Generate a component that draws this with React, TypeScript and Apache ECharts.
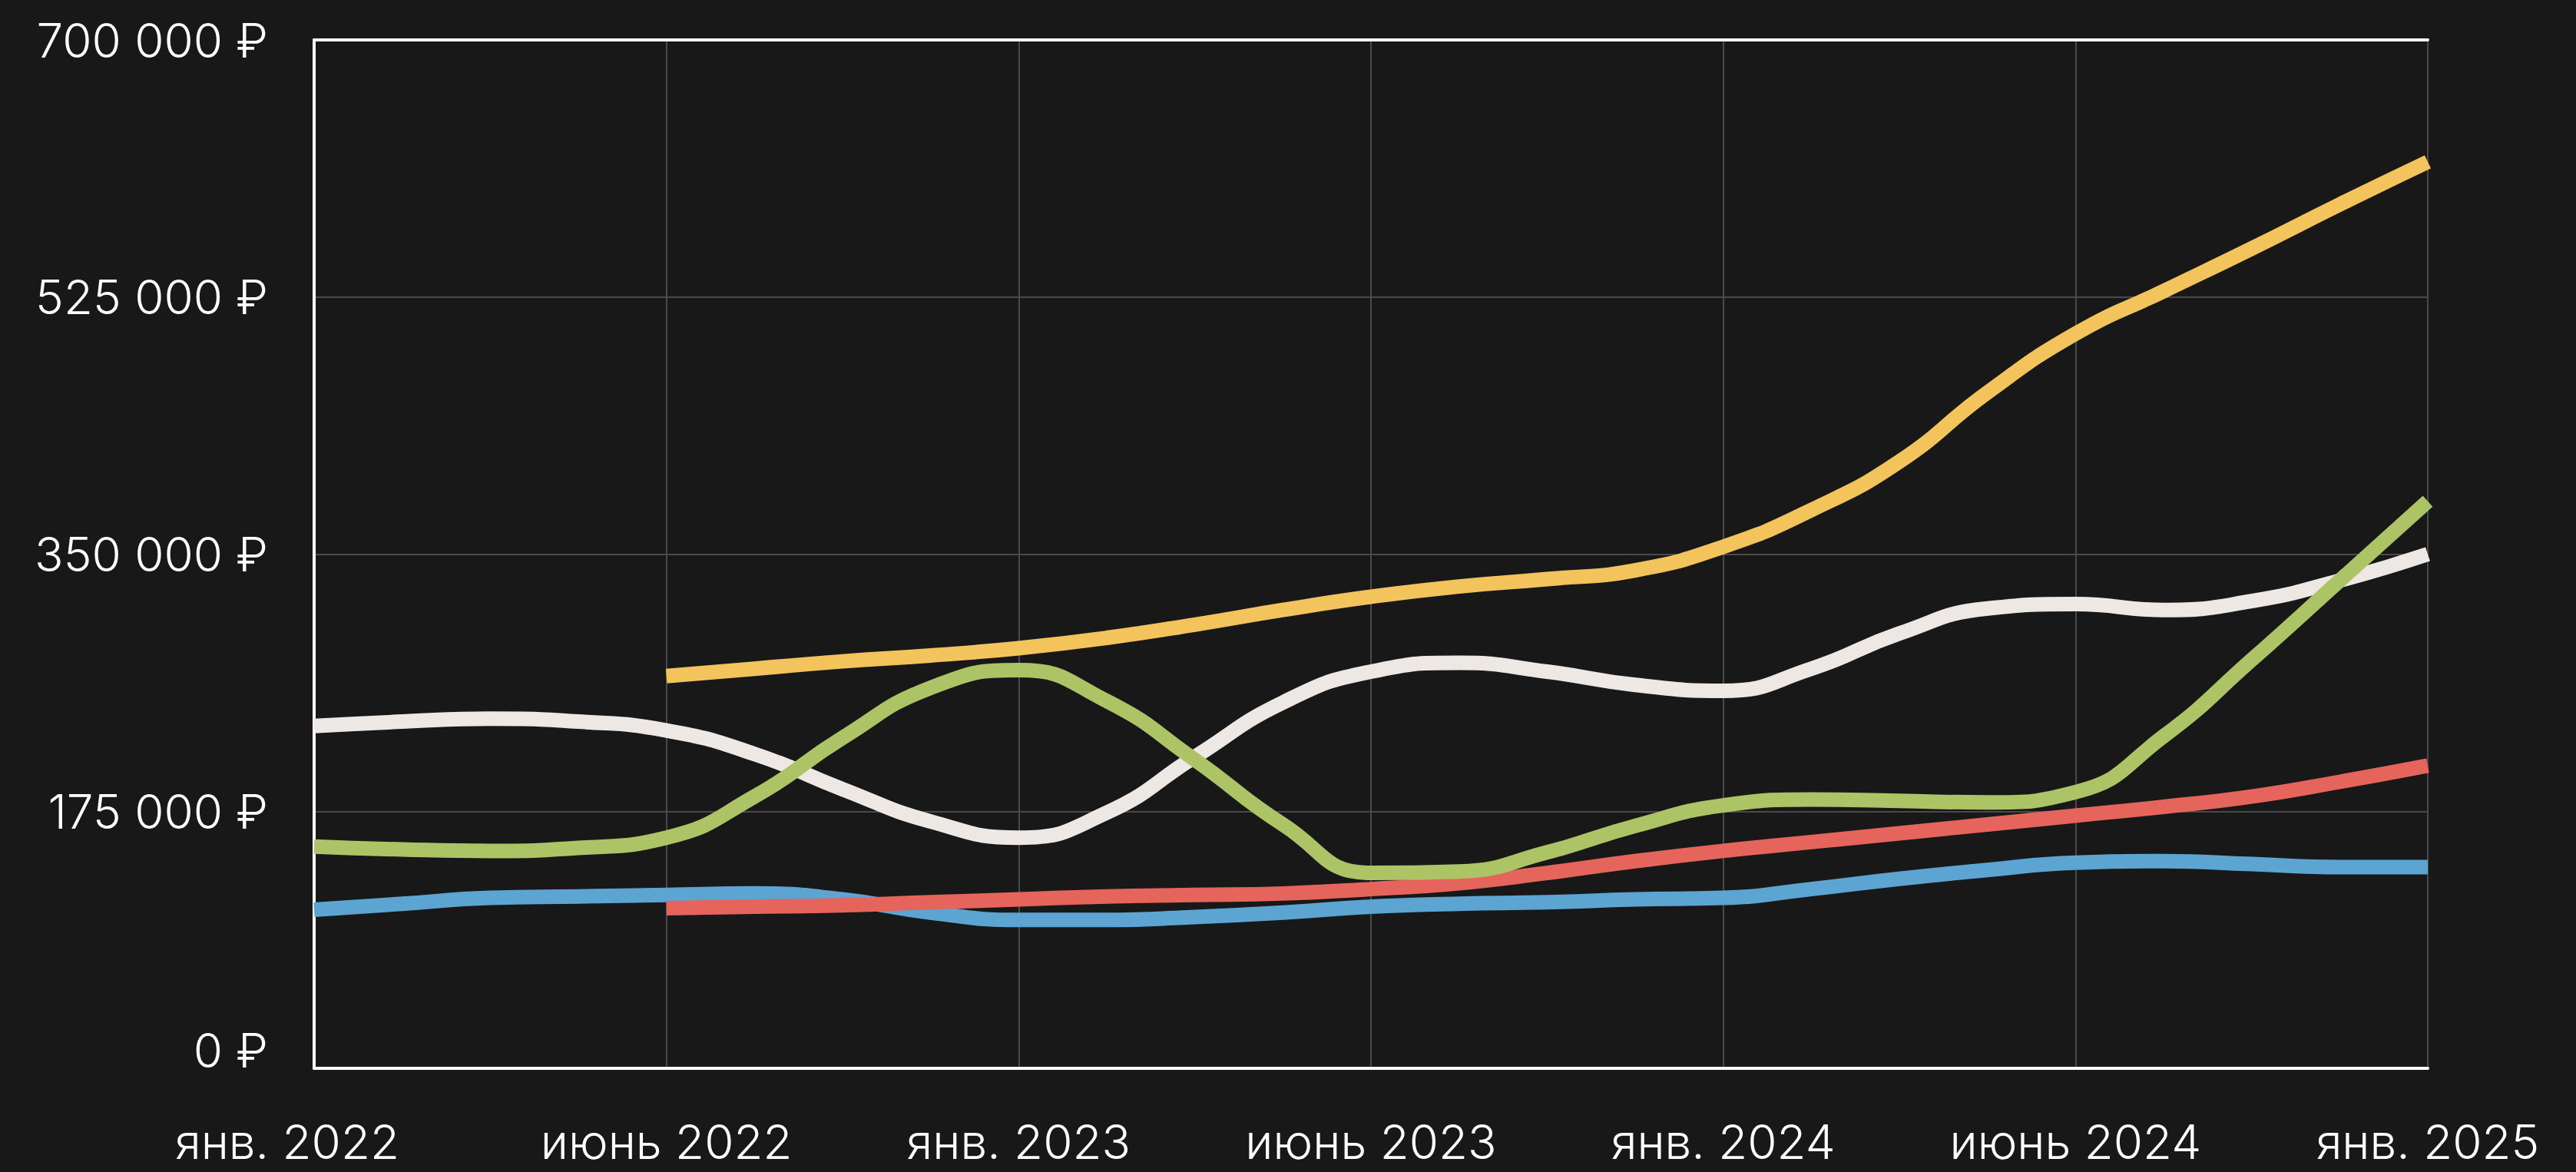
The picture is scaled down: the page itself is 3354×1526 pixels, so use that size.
import React, { useEffect, useRef } from "react";
import * as echarts from "echarts";

const TICK_LABELS = ["янв. 2022", "июнь 2022", "янв. 2023", "июнь 2023", "янв. 2024", "июнь 2024", "янв. 2025"];
const X_POS = [0, 0.25, 0.5, 0.75, 1, 1.25, 1.5, 1.75, 2, 2.25, 2.5, 2.75, 3, 3.25, 3.5, 3.75, 4, 4.25, 4.5, 4.75, 5, 5.25, 5.5, 5.75, 6];
const Y_TICKS = [0, 175000, 350000, 525000, 700000];

const WHITE = [233, 236, 238, 236, 230, 214, 190, 168, 157, 174, 212, 249, 270, 276, 270, 261, 257, 272, 296, 313, 316, 312, 318, 332, 350];
const GREEN = [151, 149, 148, 150, 157, 185, 225, 259, 271, 250, 210, 166, 133, 134, 147, 165, 179, 183, 182, 181, 188, 226, 278, 332, 386];
const YELLOW = [null, null, null, null, 267, 272, 277, 281, 286, 293, 302, 312, 321, 328, 333, 339, 355, 380, 413, 460, 500, 529, 558, 588, 617];
const RED = [null, null, null, null, 109, 110, 111, 113, 115, 117, 118, 119, 122, 126, 133, 141, 148, 154, 160, 166, 172, 178, 185, 195, 206];
const BLUE = [108, 112, 116, 117, 118, 119, 115, 106, 101, 101, 103, 106, 110, 112, 113, 115, 116, 122, 129, 135, 140, 141, 139, 137, 137];

const SERIES = [
  { name: "blue", values: BLUE, color: "#5CA4D1" },
  { name: "red", values: RED, color: "#E5645B" },
  { name: "white", values: WHITE, color: "#EEE8E5" },
  { name: "green", values: GREEN, color: "#ADC466" },
  { name: "yellow", values: YELLOW, color: "#F2C45B" },
];

function fmtRub(v: number): string {
  const s = String(Math.round(v)).replace(/\B(?=(\d{3})+(?!\d))/g, " ");
  return s + " ₽";
}

export default function App() {
  const ref = useRef<HTMLDivElement>(null);
  useEffect(() => {
    if (!ref.current) return;
    const chart = echarts.init(ref.current, null, { renderer: "svg" });
    const font = "Inter";
    chart.setOption({
      animation: false,
      backgroundColor: "#181818",
      grid: { left: 409, right: 193, top: 52, bottom: 135 },
      xAxis: [
        {
          type: "value",
          min: 0,
          max: 6,
          interval: 1,
          position: "bottom",
          axisLine: { show: true, lineStyle: { color: "#ffffff", width: 4 } },
          axisTick: { show: false },
          splitLine: { show: true, lineStyle: { color: "#4a4a4a", width: 2 } },
          axisLabel: {
            color: "#ffffff",
            fontFamily: font,
            fontWeight: 300,
            fontSize: 62,
            margin: 64,
            formatter: (v: number) => {
              const i = Math.round(v);
              const t = TICK_LABELS[i] ?? "";
              return i === 0 ? "{f|" + t + "}" : t;
            },
            rich: {
              f: { color: "#ffffff", fontFamily: font, fontWeight: 300, fontSize: 62, padding: [0, 70, 0, 0] },
            },
          },
        },
        {
          type: "value",
          min: 0,
          max: 6,
          position: "top",
          axisLine: { show: true, lineStyle: { color: "#ffffff", width: 4 } },
          axisTick: { show: false },
          axisLabel: { show: false },
          splitLine: { show: false },
        },
      ],
      yAxis: {
        type: "value",
        min: 0,
        max: 700000,
        interval: 175000,
        axisLine: { show: true, lineStyle: { color: "#ffffff", width: 4 } },
        axisTick: { show: false },
        splitLine: { show: true, lineStyle: { color: "#4a4a4a", width: 2 } },
        axisLabel: {
          color: "#ffffff",
          fontFamily: font,
          fontWeight: 300,
          fontSize: 62,
          margin: 60,
          customValues: Y_TICKS,
          formatter: (v: number) => (v === 0 ? "{z|" + fmtRub(v) + "}" : fmtRub(v)),
          rich: {
            z: { color: "#ffffff", fontFamily: font, fontWeight: 300, fontSize: 62, padding: [0, 0, 48, 0] },
          },
        },
      },
      series: SERIES.map((s) => ({
        type: "line",
        name: s.name,
        xAxisIndex: 0,
        smooth: 0.5,
        showSymbol: false,
        symbol: "none",
        lineStyle: { color: s.color, width: 19, cap: "butt", join: "round" },
        data: X_POS.map((x, i) => [x, s.values[i] == null ? null : (s.values[i] as number) * 1000]),
      })),
    });
    return () => chart.dispose();
  }, []);
  return (
    <div
      ref={ref}
      style={{ position: "fixed", left: 0, top: 0, width: 3354, height: 1526, background: "#181818" }}
    />
  );
}
